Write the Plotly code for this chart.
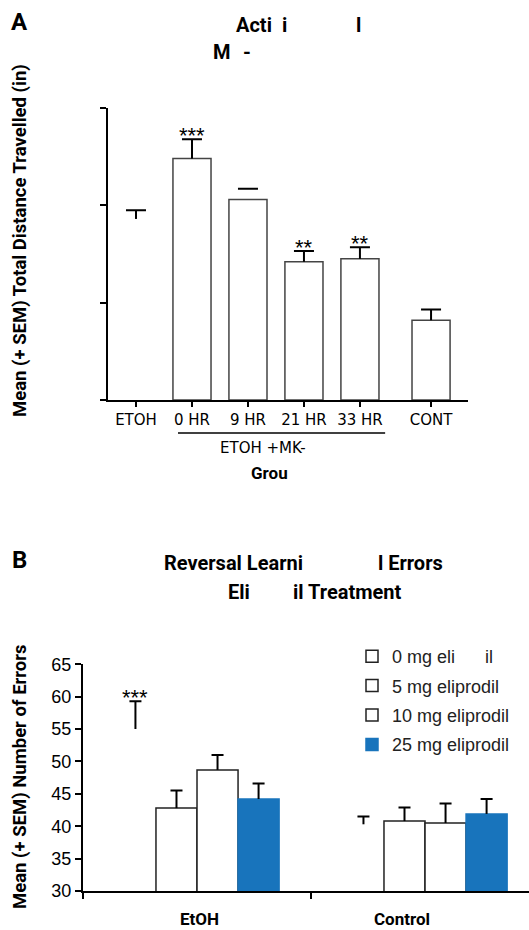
import plotly.graph_objects as go

W, H = 529, 930

# ---------------- Panel A data ----------------
a_cats = ["ETOH", "0 HR", "9 HR", "21 HR", "33 HR", "CONT"]
a_pos = [0, 1, 2, 3, 4, 5.27]
a_mean = [1.86, 2.48, 2.06, 1.42, 1.45, 0.82]
a_sem = [0.09, 0.20, 0.11, 0.11, 0.12, 0.11]
a_sig = ["", "***", "", "**", "**", ""]
a_visible = [False, True, True, True, True, True]
a_stem_drawn = [True, True, False, True, True, True]

# ---------------- Panel B data ----------------
b_groups = ["EtOH", "Control"]
b_group_pos = [0, 1]
b_label_pos = [0.01, 0.90]
b_doses = ["0 mg eli      il", "5 mg eliprodil", "10 mg eliprodil", "25 mg eliprodil"]
b_keys = ["0", "5", "10", "25"]
b_mean = {
    "0": [55.0, 40.3],
    "5": [42.8, 40.8],
    "10": [48.7, 40.5],
    "25": [44.2, 41.9],
}
b_sem = {
    "0": [4.3, 1.2],
    "5": [2.7, 2.1],
    "10": [2.3, 3.0],
    "25": [2.4, 2.3],
}
b_sig = ["***", ""]
b_fill = ["white", "white", "white", "#1874BC"]
b_drawn = [False, True, True, True]

BOLD = "Roboto"
SANS = "Liberation Sans"
TICKA = "DejaVu Sans"

def px(x):
    return x / W

def py(y):
    return 1 - y / H

fig = go.Figure()

# ---- Panel A bars (stems of error bars from the bar) ----
fig.add_trace(go.Bar(
    x=a_pos, y=a_mean, width=0.68,
    marker=dict(color=["white" if v else "rgba(0,0,0,0)" for v in a_visible],
                line=dict(color=["#444" if v else "rgba(0,0,0,0)" for v in a_visible], width=1.5)),
    error_y=dict(type="data", array=[s if d else 0 for s, d in zip(a_sem, a_stem_drawn)],
                 arrayminus=[0] * len(a_sem), symmetric=False,
                 color="black", thickness=2, width=0),
    xaxis="x", yaxis="y", showlegend=False, hoverinfo="skip",
))
# caps at mean + SEM
fig.add_trace(go.Scatter(
    x=a_pos, y=[m + s for m, s in zip(a_mean, a_sem)], mode="markers",
    marker=dict(opacity=0, size=1),
    error_y=dict(type="data", array=[0] * len(a_pos), color="black", thickness=2, width=10),
    xaxis="x", yaxis="y", showlegend=False, hoverinfo="skip",
))

# ---- Panel B bars ----
bw = 0.18
for i, (k, name) in enumerate(zip(b_keys, b_doses)):
    off = (i - 1.5) * bw
    xs = [g + off for g in b_group_pos]
    drawn = b_drawn[i]
    line_col = "#222" if b_fill[i] == "white" else b_fill[i]
    fig.add_trace(go.Bar(
        x=xs, y=b_mean[k], width=bw, name=name,
        marker=dict(color=b_fill[i] if drawn else "rgba(0,0,0,0)",
                    line=dict(color=line_col if drawn else "rgba(0,0,0,0)", width=1.5)),
        error_y=dict(type="data", array=b_sem[k], arrayminus=[0, 0], symmetric=False,
                     color="black", thickness=2, width=0),
        xaxis="x2", yaxis="y2", showlegend=drawn, legendgroup=k, hoverinfo="skip",
    ))
    if not drawn:
        # legend entry for this series
        fig.add_trace(go.Bar(
            x=[None], y=[None], name=name,
            marker=dict(color="white", line=dict(color="#222", width=1.5)),
            xaxis="x2", yaxis="y2", legendgroup=k,
        ))
    fig.add_trace(go.Scatter(
        x=xs, y=[m + s for m, s in zip(b_mean[k], b_sem[k])], mode="markers",
        marker=dict(opacity=0, size=1),
        error_y=dict(type="data", array=[0, 0], color="black", thickness=2, width=6),
        xaxis="x2", yaxis="y2", showlegend=False, hoverinfo="skip",
    ))

annotations = []
# significance stars panel A
for p, m, s, t in zip(a_pos, a_mean, a_sem, a_sig):
    if t:
        annotations.append(dict(x=p, y=m + s, xref="x", yref="y", text=t, showarrow=False,
                                xanchor="center", yanchor="middle", yshift=4,
                                font=dict(family=SANS, size=22, color="black")))
# significance stars panel B
for g, m, s, t in zip(b_group_pos, b_mean["0"], b_sem["0"], b_sig):
    if t:
        annotations.append(dict(x=g - 1.5 * bw, y=m + s, xref="x2", yref="y2", text=t, showarrow=False,
                                xanchor="center", yanchor="middle", yshift=4,
                                font=dict(family=SANS, size=22, color="black")))

# group labels panel B
for lp, g in zip(b_label_pos, b_groups):
    annotations.append(dict(x=lp, y=py(919), xref="x2", yref="paper", text=g, showarrow=False,
                            xanchor="center", yanchor="middle",
                            font=dict(family=BOLD, size=17, color="black", weight="bold")))

def txt(x, y, s, size, family=BOLD, bold=True, anchor="left", angle=0):
    annotations.append(dict(x=px(x), y=py(y), xref="paper", yref="paper", text=s, showarrow=False,
                            xanchor=anchor, yanchor="middle", textangle=angle,
                            font=dict(family=family, size=size, color="black",
                                      weight="bold" if bold else "normal")))

# panel labels and titles
txt(9, 22, "A", 24)
txt(234, 25, "Acti", 20)
txt(280, 25, "i", 20)
txt(354, 25, "l", 20)
txt(211, 52, "M", 20)
txt(241, 52, "-", 20)

txt(10, 560, "B", 24)
txt(162, 563, "Reversal Learni", 20)
txt(376, 563, "l Errors", 20)
txt(226, 592, "Eli", 20)
txt(291, 592, "il Treatment", 20)

# y titles
txt(20, 241, "Mean (+ SEM) Total Distance Travelled (in)", 18.5, anchor="center", angle=-90)
txt(20, 777, "Mean (+ SEM) Number of Errors", 18.5, anchor="center", angle=-90)

# panel A sub-labels
annotations.append(dict(x=2.27, y=py(448), xref="x", yref="paper", text="ETOH +MK-", showarrow=False,
                        xanchor="center", yanchor="middle",
                        font=dict(family=TICKA, size=15, color="black")))
annotations.append(dict(x=2.39, y=py(473), xref="x", yref="paper", text="Grou", showarrow=False,
                        xanchor="center", yanchor="middle",
                        font=dict(family=BOLD, size=17, color="black", weight="bold")))

shapes = [dict(type="line", xref="x", yref="paper", x0=0.75, x1=4.45, y0=py(433), y1=py(433),
               line=dict(color="black", width=1.5))]

fig.update_layout(
    width=W, height=H,
    margin=dict(l=0, r=0, t=0, b=0, autoexpand=False),
    paper_bgcolor="white", plot_bgcolor="white",
    annotations=annotations, shapes=shapes,
    xaxis=dict(domain=[px(108), px(468)], range=[-0.5, 5.93], anchor="y",
               tickvals=a_pos, ticktext=a_cats, ticks="outside", ticklen=5, tickwidth=2,
               tickcolor="black", showline=True, linecolor="black", linewidth=2,
               showgrid=False, zeroline=False,
               tickfont=dict(family=TICKA, size=15, color="black")),
    yaxis=dict(domain=[py(400), py(108)], range=[0, 3], anchor="x",
               tickvals=[0, 1, 2, 3], showticklabels=False, ticks="outside", ticklen=6, tickwidth=2,
               tickcolor="black", showline=True, linecolor="black", linewidth=2,
               showgrid=False, zeroline=False),
    xaxis2=dict(domain=[px(83), 1], range=[-0.5, 1.456], anchor="y2",
                tickvals=[-0.5, 0.5], ticktext=["", ""], ticks="outside", ticklen=6, tickwidth=2,
                tickcolor="black", showline=True, linecolor="black", linewidth=2,
                showgrid=False, zeroline=False),
    yaxis2=dict(domain=[py(891), py(664.3)], range=[30, 65], anchor="x2",
                tickvals=[30, 35, 40, 45, 50, 55, 60, 65], ticks="outside", ticklen=6, tickwidth=2,
                tickcolor="black", showline=True, linecolor="black", linewidth=2,
                showgrid=False, zeroline=False,
                tickfont=dict(family=SANS, size=18, color="black")),
    legend=dict(x=px(352), y=py(638), xanchor="left", yanchor="top",
                font=dict(family=SANS, size=18, color="#222"),
                bgcolor="rgba(0,0,0,0)", tracegroupgap=3, traceorder="grouped"),
    showlegend=True,
)

fig.write_html("out.html", config={"displayModeBar": False},
               post_script="document.body.style.margin='0px';")
